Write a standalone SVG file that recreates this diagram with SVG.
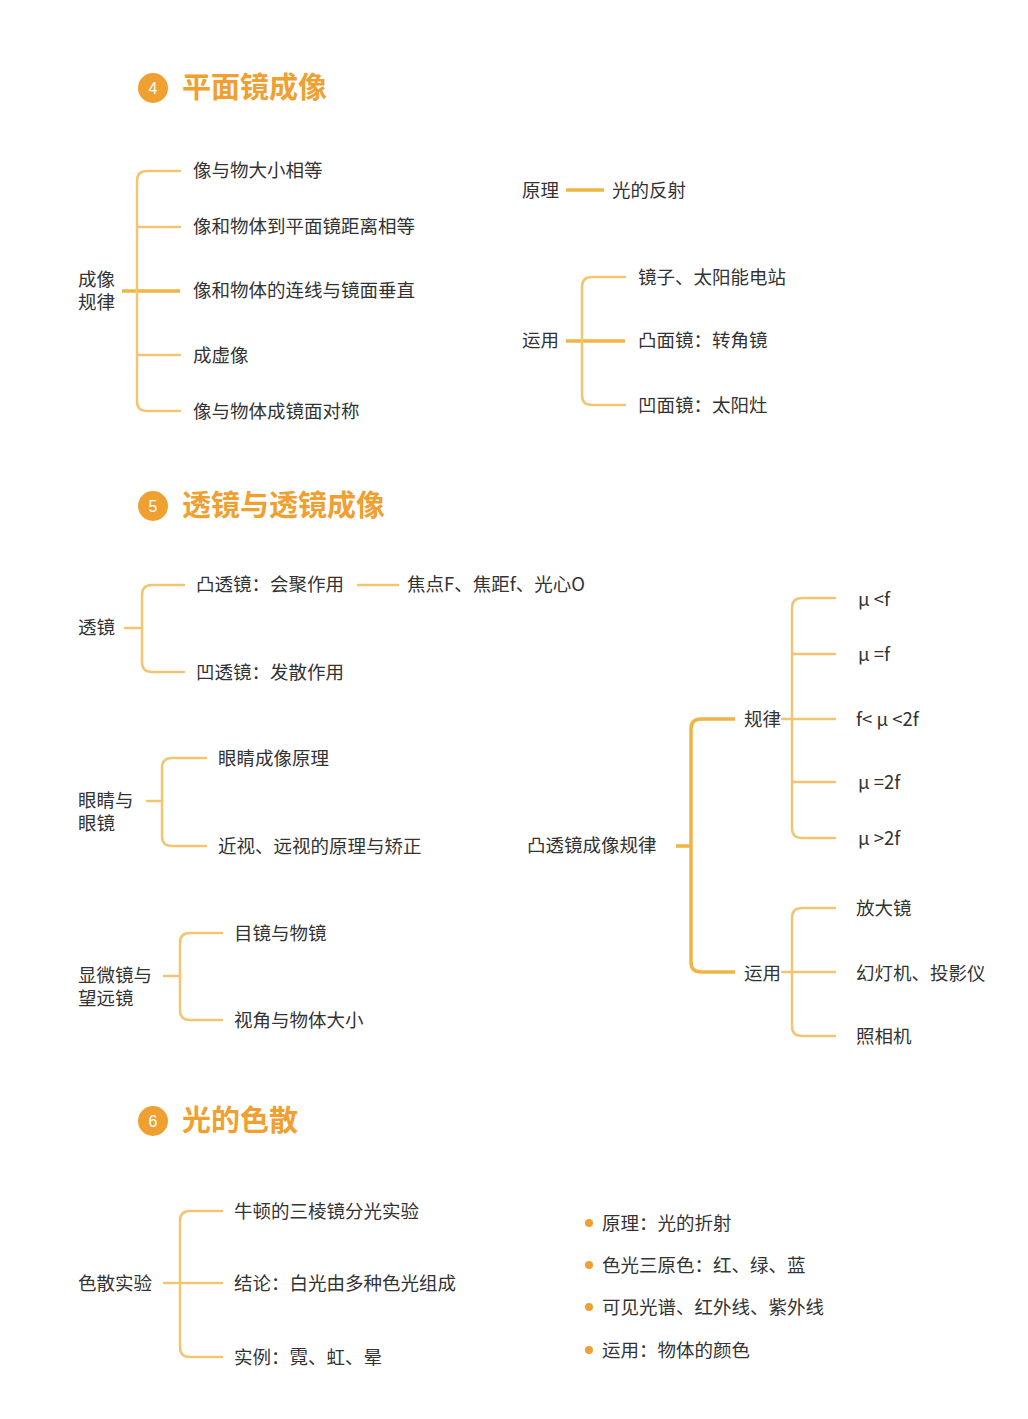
<svg xmlns="http://www.w3.org/2000/svg" width="1028" height="1419" viewBox="0 0 1028 1419">
<style>
.t{font-family:"Noto Sans CJK SC","Liberation Sans",sans-serif;font-size:18.5px;fill:#333}
.h{font-family:"Noto Sans CJK SC",sans-serif;font-size:29px;font-weight:bold;fill:#F0A030}
.n{font-family:"Liberation Sans",sans-serif;font-size:16px;fill:#fff;text-anchor:middle}
.b{fill:none;stroke:#F2C572;stroke-width:2.5;stroke-linecap:round}
.s{fill:none;stroke:#F0B444;stroke-width:3.5}
</style>
<rect width="1028" height="1419" fill="#fff"/>
<g id="titles">
<circle cx="153" cy="88" r="15" fill="#F0A030"/><text class="n" x="153" y="94">4</text><text class="h" x="182" y="98">平面镜成像</text>
<circle cx="153" cy="506" r="15" fill="#F0A030"/><text class="n" x="153" y="512">5</text><text class="h" x="182" y="516">透镜与透镜成像</text>
<circle cx="153" cy="1121" r="15" fill="#F0A030"/><text class="n" x="153" y="1127">6</text><text class="h" x="182" y="1131">光的色散</text>
</g>
<g id="connectors">
<path class="s" d="M122 291H180"/>
<path class="b" d="M180 171H147Q137 171 137 181V401Q137 411 147 411H180M137 227H180M137 355H180"/>
<path class="s" d="M566 190H604"/>
<path class="s" d="M566 341H625"/>
<path class="b" d="M625 277H592Q582 277 582 287V395Q582 405 592 405H625"/>
<path class="b" d="M125 628H142M184 585H152Q142 585 142 595V662Q142 672 152 672H184"/>
<path class="b" d="M358 585H398"/>
<path class="b" d="M147 801H162M206 758H172Q162 758 162 768V836Q162 846 172 846H206"/>
<path class="b" d="M164 976H180M222 933H190Q180 933 180 943V1010Q180 1020 190 1020H222"/>
<path class="s" d="M676 846H691M735 719H701Q691 719 691 729V962Q691 972 701 972H735"/>
<path class="b" d="M782 719H835M835 598H802Q792 598 792 608V828Q792 838 802 838H835M792 654H835M792 782H835"/>
<path class="b" d="M782 972H835M835 908H802Q792 908 792 918V1026Q792 1036 802 1036H835"/>
<path class="b" d="M164 1283H222M222 1211H190Q180 1211 180 1221V1347Q180 1357 190 1357H222"/>
</g>
<g id="s4">
<text class="t" x="78" y="286">成像</text><text class="t" x="78" y="309">规律</text>
<text class="t" x="193" y="177">像与物大小相等</text>
<text class="t" x="193" y="233">像和物体到平面镜距离相等</text>
<text class="t" x="193" y="297">像和物体的连线与镜面垂直</text>
<text class="t" x="193" y="362">成虚像</text>
<text class="t" x="193" y="418">像与物体成镜面对称</text>
<text class="t" x="522" y="197">原理</text><text class="t" x="612" y="197">光的反射</text>
<text class="t" x="522" y="347">运用</text>
<text class="t" x="638" y="284">镜子、太阳能电站</text>
<text class="t" x="638" y="347">凸面镜：转角镜</text>
<text class="t" x="638" y="412">凹面镜：太阳灶</text>
</g>
<g id="s5">
<text class="t" x="78" y="634">透镜</text>
<text class="t" x="196" y="591">凸透镜：会聚作用</text>
<text class="t" x="407" y="591">焦点F、焦距f、光心O</text>
<text class="t" x="196" y="679">凹透镜：发散作用</text>
<text class="t" x="78" y="807">眼睛与</text><text class="t" x="78" y="830">眼镜</text>
<text class="t" x="218" y="765">眼睛成像原理</text>
<text class="t" x="218" y="853">近视、远视的原理与矫正</text>
<text class="t" x="78" y="982">显微镜与</text><text class="t" x="78" y="1005">望远镜</text>
<text class="t" x="234" y="940">目镜与物镜</text>
<text class="t" x="234" y="1027">视角与物体大小</text>
<text class="t" x="527" y="852">凸透镜成像规律</text>
<text class="t" x="744" y="726">规律</text>
<text class="t" x="744" y="980">运用</text>
<text class="t" x="858" y="606">μ &lt;f</text>
<text class="t" x="858" y="661">μ =f</text>
<text class="t" x="856" y="726">f&lt; μ &lt;2f</text>
<text class="t" x="858" y="789">μ =2f</text>
<text class="t" x="858" y="845">μ &gt;2f</text>
<text class="t" x="856" y="915">放大镜</text>
<text class="t" x="856" y="980">幻灯机、投影仪</text>
<text class="t" x="856" y="1043">照相机</text>
</g>
<g id="s6">
<text class="t" x="78" y="1290">色散实验</text>
<text class="t" x="234" y="1218">牛顿的三棱镜分光实验</text>
<text class="t" x="234" y="1290">结论：白光由多种色光组成</text>
<text class="t" x="234" y="1364">实例：霓、虹、晕</text>
<circle cx="589" cy="1223" r="4" fill="#F0A030"/><text class="t" x="602" y="1230">原理：光的折射</text>
<circle cx="589" cy="1265" r="4" fill="#F0A030"/><text class="t" x="602" y="1272">色光三原色：红、绿、蓝</text>
<circle cx="589" cy="1307" r="4" fill="#F0A030"/><text class="t" x="602" y="1314">可见光谱、红外线、紫外线</text>
<circle cx="589" cy="1350" r="4" fill="#F0A030"/><text class="t" x="602" y="1357">运用：物体的颜色</text>
</g>
</svg>
